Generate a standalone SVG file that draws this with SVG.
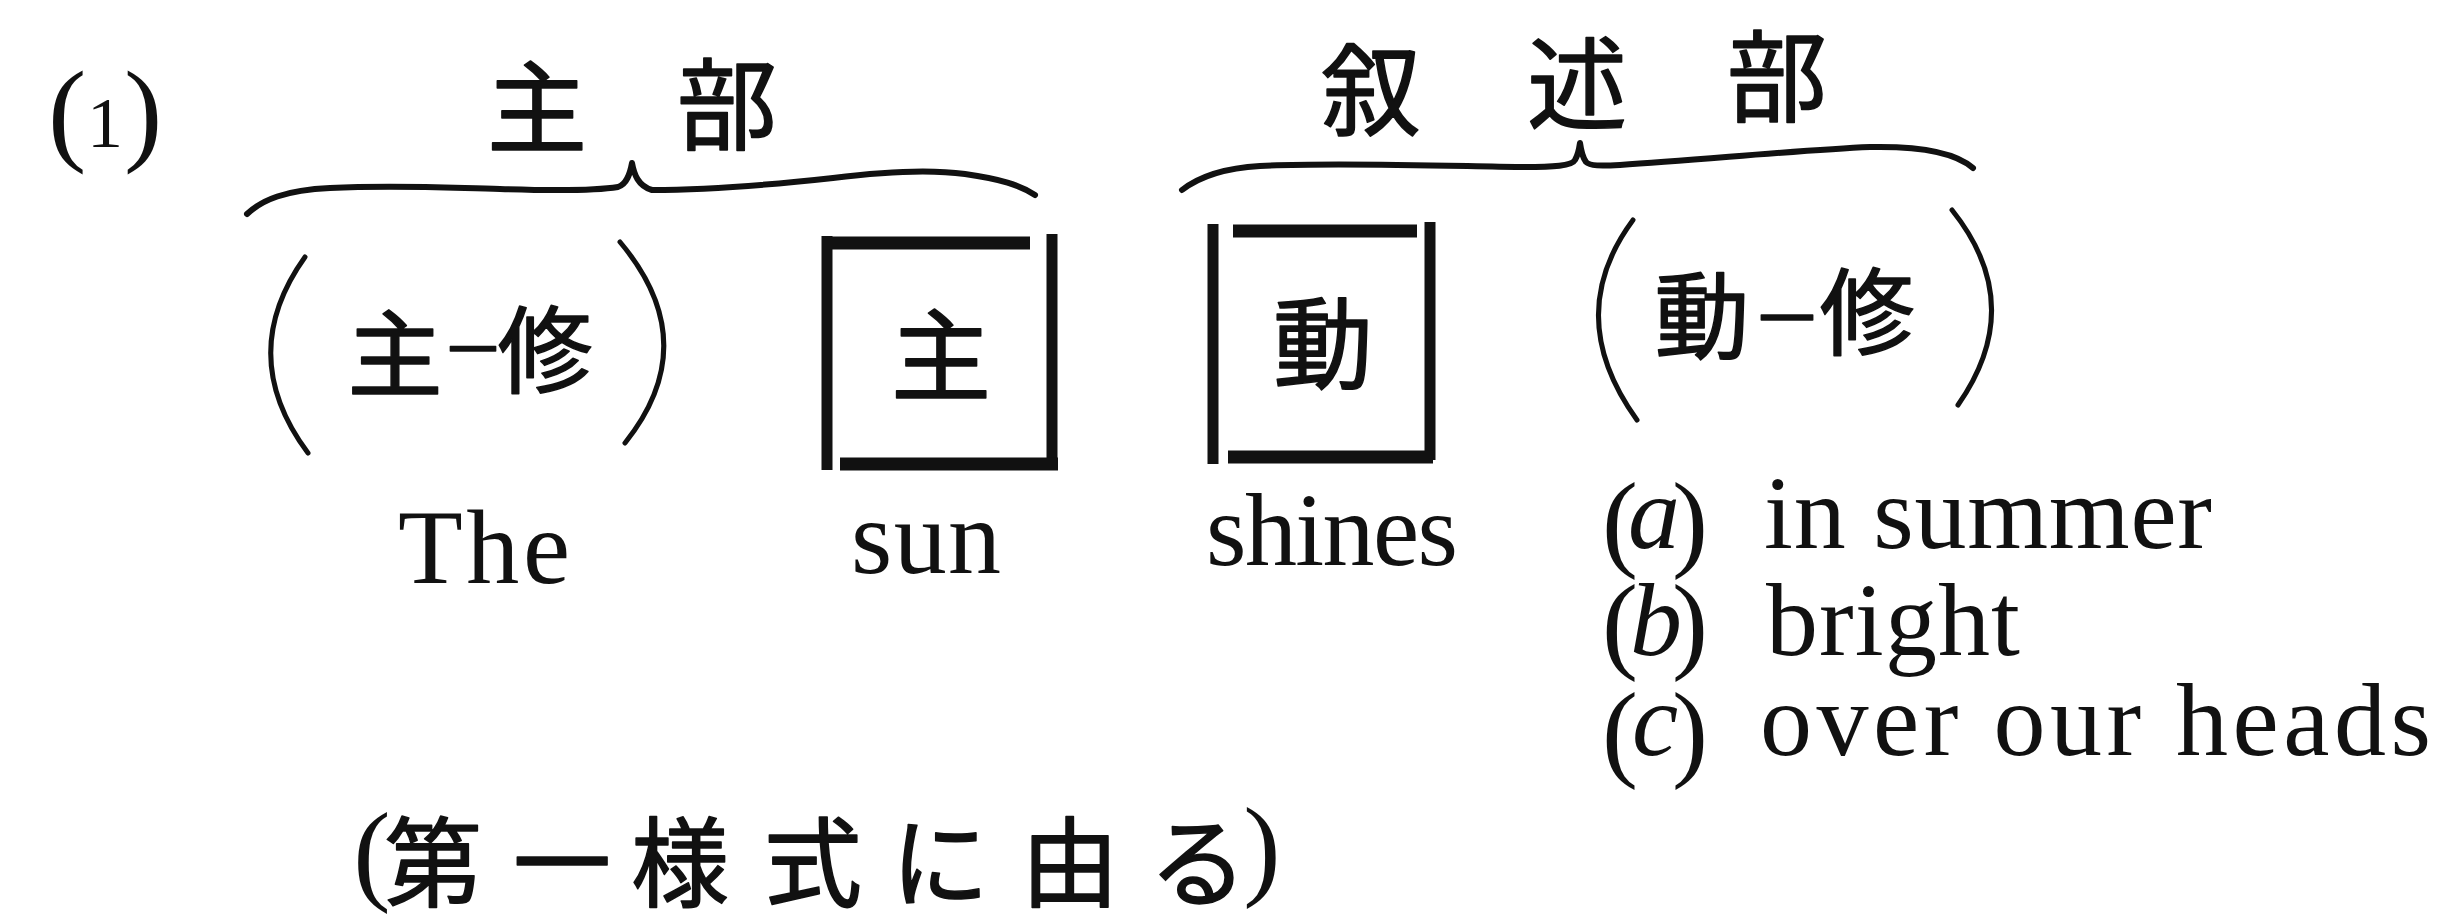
<svg xmlns="http://www.w3.org/2000/svg" width="2447" height="924" viewBox="0 0 2447 924">
  <style>
    .bg { fill: #ffffff; }
    .cjk { font-family: "Liberation Serif", "Noto Sans CJK JP", serif; fill: #111; stroke: #111; stroke-width: 1.5; stroke-linejoin: round; }
    .en { font-family: "Liberation Serif", serif; fill: #111; }
    .brace { fill: none; stroke: #111; stroke-width: 6; stroke-linecap: round; stroke-linejoin: round; }
    .paren { fill: none; stroke: #111; stroke-width: 5; stroke-linecap: round; }
    .side { stroke: #111; stroke-width: 11; stroke-linecap: butt; }
    .bar { stroke: #111; stroke-width: 13; stroke-linecap: butt; }
  </style>
  <rect class="bg" x="0" y="0" width="2447" height="924"/>

  <g id="number-label">
    <text class="en" y="150"><tspan x="48" font-size="115">(</tspan><tspan x="87" y="147" font-size="72">1</tspan><tspan x="124" y="150" font-size="115">)</tspan></text>
  </g>

  <g id="subject-part-label">
    <text class="cjk" font-size="100" text-anchor="middle"><tspan x="537" y="145">主</tspan><tspan x="727" y="142">部</tspan></text>
  </g>

  <g id="predicate-part-label">
    <text class="cjk" font-size="100" text-anchor="middle"><tspan x="1371" y="128">叙</tspan><tspan x="1577" y="121">述</tspan><tspan x="1777" y="114">部</tspan></text>
  </g>

  <g id="connectors">
    <path class="brace" d="M247,214 C262,200 285,190 330,188 C400,185 450,188 500,189 C560,191 600,190 618,187 C627,184 630,174 632,163 C634,174 638,186 652,190 C700,190 760,186 833,178 C880,172 930,169 965,174 C1000,179 1020,185 1035,195"/>
    <path class="brace" d="M1182,190 C1200,176 1225,168 1260,166 C1330,162 1450,166 1520,167 C1555,167 1572,166 1575,160 C1578,155 1579,150 1580,143 C1581,150 1583,158 1586,162 C1590,166 1600,166 1620,165 C1700,160 1800,150 1870,147 C1920,146 1955,152 1973,168"/>
  </g>

  <g id="node-subject-modifier">
    <path class="paren" d="M305,257 Q235,355 308,453"/>
    <path class="paren" d="M620,242 Q705,343 625,443"/>
    <text class="cjk" font-size="95" text-anchor="middle"><tspan x="395" y="390">主</tspan><tspan x="473" y="370" font-size="88" stroke-width="1.5">–</tspan><tspan x="545" y="386">修</tspan></text>
  </g>

  <g id="node-subject">
    <line class="side" x1="827" y1="236" x2="827" y2="470"/>
    <line class="side" x1="1052" y1="234" x2="1052" y2="466"/>
    <line class="bar" x1="829" y1="243" x2="1030" y2="243"/>
    <line class="bar" x1="840" y1="464" x2="1058" y2="464"/>
    <text class="cjk" font-size="100" text-anchor="middle" x="941" y="393">主</text>
  </g>

  <g id="node-verb">
    <line class="side" x1="1213" y1="224" x2="1213" y2="464"/>
    <line class="side" x1="1430" y1="222" x2="1430" y2="460"/>
    <line class="bar" x1="1233" y1="231" x2="1417" y2="231"/>
    <line class="bar" x1="1228" y1="457" x2="1433" y2="457"/>
    <text class="cjk" font-size="100" text-anchor="middle" x="1323" y="381">動</text>
  </g>

  <g id="node-verb-modifier">
    <path class="paren" d="M1633,220 Q1562,316 1637,420"/>
    <path class="paren" d="M1952,210 Q2028,305 1958,405"/>
    <text class="cjk" font-size="95" text-anchor="middle"><tspan x="1702" y="352">動</tspan><tspan x="1787" y="341" font-size="100" stroke-width="1.5">–</tspan><tspan x="1867" y="348">修</tspan></text>
  </g>

  <g id="words">
    <text class="en" font-size="106" x="398" y="583" textLength="172" lengthAdjust="spacing">The</text>
    <text class="en" font-size="106" x="851" y="573" textLength="150" lengthAdjust="spacing">sun</text>
    <text class="en" font-size="104" x="1206" y="565" textLength="252" lengthAdjust="spacing">shines</text>
  </g>

  <g id="modifier-list">
    <text class="en" font-size="104" y="557"><tspan x="1602" font-size="108">(</tspan><tspan x="1628" dy="-9" font-style="italic">a</tspan><tspan x="1672" dy="9" font-size="108">)</tspan></text>
    <text class="en" font-size="104" x="1764" y="548" textLength="448" lengthAdjust="spacing">in summer</text>
    <text class="en" font-size="104" y="659"><tspan x="1602" font-size="108">(</tspan><tspan x="1630" dy="-4" font-style="italic">b</tspan><tspan x="1672" dy="4" font-size="108">)</tspan></text>
    <text class="en" font-size="104" x="1766" y="655" textLength="254" lengthAdjust="spacing">bright</text>
    <text class="en" font-size="104" y="767"><tspan x="1602" font-size="108">(</tspan><tspan x="1632" dy="-12" font-style="italic">c</tspan><tspan x="1672" dy="12" font-size="108">)</tspan></text>
    <text class="en" font-size="104" x="1760" y="755" textLength="671" lengthAdjust="spacing">over our heads</text>
  </g>

  <g id="footer-note">
    <text class="cjk" font-size="98" text-anchor="middle"><tspan x="372" y="890" font-size="112" stroke-width="0">(</tspan><tspan x="433" y="899">第</tspan><tspan x="562" y="899">一</tspan><tspan x="680" y="899">様</tspan><tspan x="813" y="899">式</tspan><tspan x="940" y="899">に</tspan><tspan x="1070" y="899">由</tspan><tspan x="1198" y="899">る</tspan><tspan x="1262" y="885" font-size="112" stroke-width="0">)</tspan></text>
  </g>
</svg>
